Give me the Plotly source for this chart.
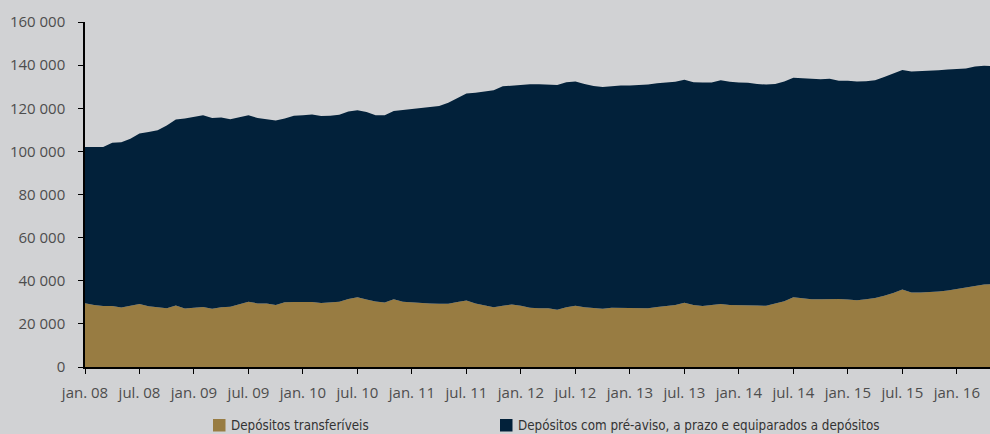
import plotly.graph_objects as go

# Monthly deposits, Jan 2008 - May 2016 (million euros)
transferable = [
    29600, 28700, 28300, 28300, 27600, 28300, 29200, 28200, 27700, 27300, 28500, 27100,
    27500, 27800, 27000, 27700, 27900, 29100, 30300, 29500, 29400, 28800, 30000, 30100,
    30300, 30200, 29700, 29900, 30300, 31500, 32400, 31300, 30400, 29900, 31400, 30300,
    30000, 29500, 29400, 29300, 29300, 30200, 30800, 29400, 28500, 27700, 28400, 29000,
    28400, 27500, 27200, 27300, 26600, 27700, 28400, 27700, 27400, 27000, 27500, 27400,
    27200, 27400, 27300, 27800, 28100, 28700, 29800, 28800, 28300, 28600, 29200, 28800,
    28800, 28700, 28500, 28400, 29300, 30500, 32300, 31900, 31400, 31400, 31500, 31500,
    31300, 31000, 31400, 32000, 33000, 34300, 36000, 34600, 34600, 34700, 35000, 35500,
    36200, 36600, 37300, 38300, 38400,
]
term_and_notice = [
    72400, 73300, 73700, 75700, 76600, 77500, 79100, 80800, 82100, 84700, 86300, 88200,
    88500, 88900, 88500, 88000, 87000, 86700, 86400, 86000, 85600, 85500, 85300, 86400,
    86500, 86900, 86700, 86600, 86700, 87000, 86700, 87000, 86400, 86800, 87300, 88900,
    89400, 90400, 91200, 91700, 93200, 94500, 96000, 97800, 99300, 100600, 101800, 101500,
    102700, 103600, 103900, 103600, 104200, 104400, 104000, 103500, 102900, 102800, 102700, 103100,
    103300, 103300, 103700, 103800, 103800, 103600, 103400, 103300, 103700, 103300, 103800, 103500,
    103200, 103100, 102700, 102600, 102000, 101900, 101800, 101900, 102200, 102100, 102200, 101300,
    101400, 101400, 101100, 101000, 101500, 101700, 101700, 102400, 102500, 102700, 102600, 102500,
    102000, 101800, 102100, 101400, 101200,
]
tick_labels = [
    "jan. 08", "jul. 08", "jan. 09", "jul. 09", "jan. 10", "jul. 10", "jan. 11", "jul. 11",
    "jan. 12", "jul. 12", "jan. 13", "jul. 13", "jan. 14", "jul. 14", "jan. 15", "jul. 15",
    "jan. 16",
]
series_names = [
    "Depósitos transferíveis",
    "Depósitos com pré-aviso, a prazo e equiparados a depósitos",
]

GOLD = "#987c42"
NAVY = "#02213a"
BG = "#d1d2d4"

W, H = 990, 434
ML, MR, MT, MB = 85, 0, 22, 67

months = list(range(len(transferable)))

fig = go.Figure()
for name, vals, col in [(series_names[0], transferable, GOLD),
                        (series_names[1], term_and_notice, NAVY)]:
    fig.add_trace(go.Scatter(
        x=months, y=vals, name=name, mode="lines",
        stackgroup="dep", line=dict(width=0, color=col), fillcolor=col,
        showlegend=False, hoverinfo="x+y",
    ))

tick_font = dict(family="Open Sans, sans-serif", size=15, color="#4d4d4d")

fig.update_xaxes(
    range=[0, 99.65], tickmode="array",
    tickvals=[6 * i for i in range(len(tick_labels))], ticktext=tick_labels,
    showgrid=False, zeroline=False, showline=True, linecolor="#000", linewidth=1.5,
    ticks="outside", ticklen=5, tickcolor="#000", tickwidth=1,
    tickfont=tick_font, ticklabelstandoff=6,
)
fig.update_yaxes(
    range=[0, 160000], tickvals=list(range(0, 160001, 20000)), tickformat=",d",
    showgrid=False, zeroline=False, showline=True, linecolor="#000", linewidth=1.5,
    ticks="outside", ticklen=5, tickcolor="#000", tickwidth=1,
    tickfont=tick_font, ticklabelstandoff=10,
)

# legend drawn as swatches + labels below the axis
pw, ph = W - ML - MR, H - MT - MB


def px_x(px):
    return (px - ML) / pw


def px_y(py):
    return (H - MB - py) / ph


legend_font = dict(family="DejaVu Sans Condensed, sans-serif",
                   size=13.3, color="#333333")
for (sx, tx), name, col in zip([(213, 229), (500, 516)], series_names, [GOLD, NAVY]):
    fig.add_shape(type="rect", xref="paper", yref="paper",
                  x0=px_x(sx), x1=px_x(sx + 12.5), y0=px_y(431.5), y1=px_y(419),
                  fillcolor=col, line=dict(width=0))
    fig.add_annotation(xref="paper", yref="paper", x=px_x(tx), y=px_y(425),
                       xanchor="left", yanchor="middle", text=name, showarrow=False,
                       font=legend_font)

fig.update_layout(
    width=W, height=H, margin=dict(l=ML, r=MR, t=MT, b=MB),
    paper_bgcolor=BG, plot_bgcolor=BG, separators=", ",
    showlegend=False,
)

fig.write_html("out.html")
